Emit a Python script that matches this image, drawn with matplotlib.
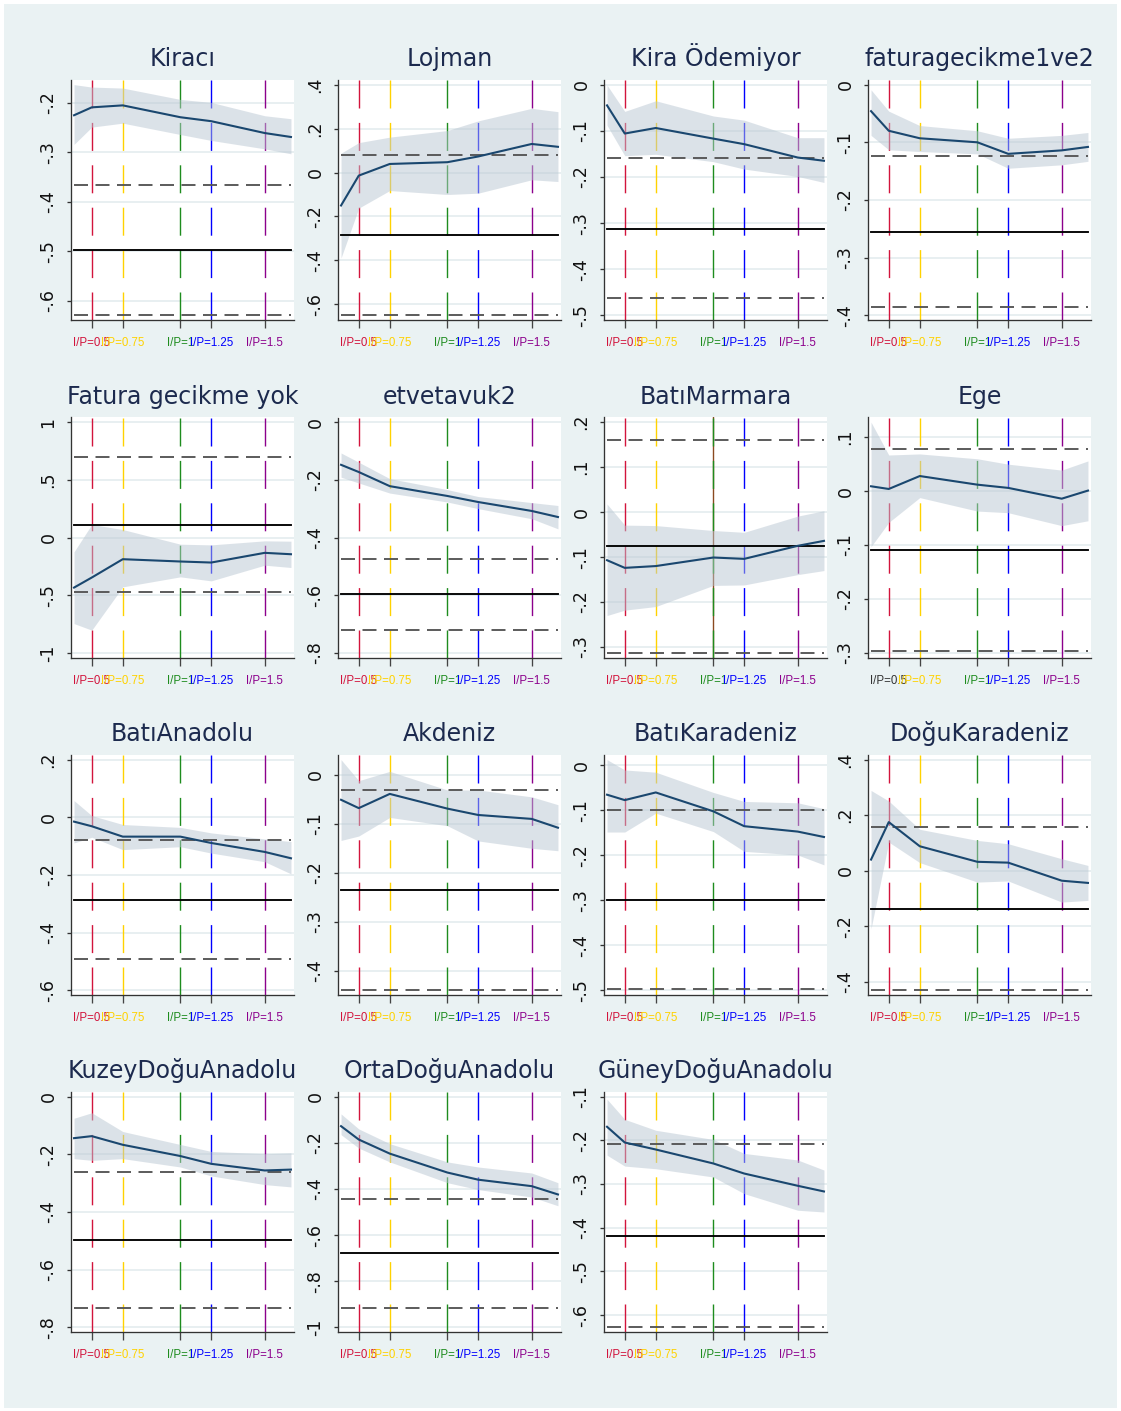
import matplotlib
matplotlib.use("Agg")
import matplotlib.pyplot as plt
from matplotlib import font_manager
from matplotlib.patches import Rectangle
import numpy as np

plt.rcParams["lines.scale_dashes"] = False

# ---------------- data ----------------
titles = ["Kiracı", "Lojman", "Kira Ödemiyor", "faturagecikme1ve2",
          "Fatura gecikme yok", "etvetavuk2", "BatıMarmara", "Ege",
          "BatıAnadolu", "Akdeniz", "BatıKaradeniz", "DoğuKaradeniz",
          "KuzeyDoğuAnadolu", "OrtaDoğuAnadolu", "GüneyDoğuAnadolu"]

x_vals = [0.40, 0.50, 0.675, 1.00, 1.174, 1.476, 1.624]
ip_pos = [0.50, 0.675, 1.00, 1.174, 1.476]
ip_labels = ["I/P=0.5", "I/P=0.75", "I/P=1", "I/P=1.25", "I/P=1.5"]

kiraci_est = [-0.225, -0.209, -0.205, -0.229, -0.237, -0.261, -0.269]
kiraci_hi = [-0.163, -0.168, -0.170, -0.193, -0.199, -0.226, -0.232]
kiraci_lo = [-0.284, -0.249, -0.241, -0.264, -0.276, -0.293, -0.303]

lojman_est = [-0.150, -0.014, 0.039, 0.047, 0.073, 0.130, 0.117]
lojman_hi = [0.088, 0.136, 0.161, 0.191, 0.235, 0.292, 0.277]
lojman_lo = [-0.389, -0.162, -0.082, -0.100, -0.094, -0.033, -0.041]

kiraode_est = [-0.045, -0.106, -0.094, -0.117, -0.129, -0.158, -0.165]
kiraode_hi = [-0.001, -0.058, -0.035, -0.068, -0.077, -0.115, -0.115]
kiraode_lo = [-0.088, -0.154, -0.151, -0.167, -0.183, -0.199, -0.212]

fatura12_est = [-0.046, -0.080, -0.093, -0.100, -0.120, -0.114, -0.108]
fatura12_hi = [-0.009, -0.046, -0.071, -0.080, -0.093, -0.088, -0.083]
fatura12_lo = [-0.088, -0.113, -0.116, -0.120, -0.145, -0.139, -0.133]

faturayok_est = [-0.434, -0.347, -0.188, -0.208, -0.217, -0.133, -0.145]
faturayok_hi = [-0.124, 0.113, 0.069, -0.058, -0.064, -0.029, -0.032]
faturayok_lo = [-0.746, -0.803, -0.428, -0.341, -0.376, -0.240, -0.260]

etve_est = [-0.148, -0.173, -0.222, -0.256, -0.277, -0.308, -0.329]
etve_hi = [-0.107, -0.139, -0.196, -0.234, -0.258, -0.279, -0.289]
etve_lo = [-0.191, -0.211, -0.246, -0.277, -0.300, -0.335, -0.370]

batimar_est = [-0.107, -0.124, -0.120, -0.101, -0.104, -0.075, -0.064]
batimar_hi = [0.018, -0.029, -0.030, -0.041, -0.045, -0.009, 0.003]
batimar_lo = [-0.230, -0.218, -0.210, -0.163, -0.162, -0.139, -0.130]

ege_est = [0.009, 0.004, 0.028, 0.012, 0.006, -0.014, 0.001]
ege_hi = [0.128, 0.067, 0.069, 0.060, 0.050, 0.039, 0.056]
ege_lo = [-0.103, -0.058, -0.012, -0.037, -0.040, -0.064, -0.055]

batiana_est = [-0.015, -0.031, -0.067, -0.067, -0.089, -0.120, -0.142]
batiana_hi = [0.058, 0.006, -0.025, -0.035, -0.054, -0.075, -0.084]
batiana_lo = [-0.089, -0.069, -0.112, -0.102, -0.124, -0.154, -0.196]

akdeniz_est = [-0.051, -0.068, -0.039, -0.069, -0.082, -0.090, -0.108]
akdeniz_hi = [0.031, -0.012, 0.007, -0.031, -0.031, -0.045, -0.061]
akdeniz_lo = [-0.134, -0.125, -0.087, -0.104, -0.135, -0.150, -0.155]

batikar_est = [-0.065, -0.077, -0.060, -0.102, -0.135, -0.147, -0.159]
batikar_hi = [0.013, -0.010, -0.015, -0.060, -0.080, -0.083, -0.096]
batikar_lo = [-0.148, -0.148, -0.106, -0.147, -0.191, -0.199, -0.221]

dogukar_est = [0.040, 0.175, 0.088, 0.032, 0.029, -0.036, -0.044]
dogukar_hi = [0.289, 0.251, 0.149, 0.109, 0.097, 0.043, 0.019]
dogukar_lo = [-0.209, 0.103, 0.029, -0.041, -0.037, -0.113, -0.107]

kdana_est = [-0.144, -0.137, -0.167, -0.206, -0.233, -0.256, -0.253]
kdana_hi = [-0.075, -0.056, -0.121, -0.166, -0.190, -0.198, -0.195]
kdana_lo = [-0.215, -0.221, -0.215, -0.244, -0.275, -0.305, -0.313]

odana_est = [-0.128, -0.186, -0.247, -0.329, -0.360, -0.388, -0.424]
odana_hi = [-0.075, -0.140, -0.204, -0.283, -0.305, -0.331, -0.373]
odana_lo = [-0.165, -0.223, -0.283, -0.373, -0.403, -0.435, -0.473]

gdana_est = [-0.169, -0.205, -0.221, -0.253, -0.276, -0.304, -0.317]
gdana_hi = [-0.106, -0.152, -0.177, -0.198, -0.230, -0.245, -0.268]
gdana_lo = [-0.234, -0.259, -0.265, -0.284, -0.322, -0.360, -0.364]

ref_solid = [-0.498, -0.286, -0.312, -0.255, 0.110, -0.597, -0.076, -0.110,
             -0.285, -0.236, -0.300, -0.137, -0.496, -0.678, -0.419]
ref_dash_hi = [-0.366, 0.079, -0.160, -0.124, 0.694, -0.473, 0.160, 0.078,
               -0.079, -0.031, -0.100, 0.156, -0.261, -0.443, -0.209]
ref_dash_lo = [-0.630, -0.650, -0.463, -0.385, -0.474, -0.721, -0.313, -0.297,
               -0.490, -0.440, -0.497, -0.431, -0.733, -0.914, -0.628]

ytick_lo = [-0.6, -0.6, -0.5, -0.4, -1.0, -0.8, -0.3, -0.3, -0.6, -0.4, -0.5, -0.4, -0.8, -1.0, -0.6]
ytick_hi = [-0.2, 0.4, 0.0, 0.0, 1.0, 0.0, 0.2, 0.1, 0.2, 0.0, 0.0, 0.4, 0.0, 0.0, -0.1]
ytick_step = [0.1, 0.2, 0.1, 0.1, 0.5, 0.2, 0.1, 0.1, 0.2, 0.1, 0.1, 0.2, 0.2, 0.2, 0.1]

est_list = [kiraci_est, lojman_est, kiraode_est, fatura12_est, faturayok_est, etve_est,
            batimar_est, ege_est, batiana_est, akdeniz_est, batikar_est, dogukar_est,
            kdana_est, odana_est, gdana_est]
hi_list = [kiraci_hi, lojman_hi, kiraode_hi, fatura12_hi, faturayok_hi, etve_hi,
           batimar_hi, ege_hi, batiana_hi, akdeniz_hi, batikar_hi, dogukar_hi,
           kdana_hi, odana_hi, gdana_hi]
lo_list = [kiraci_lo, lojman_lo, kiraode_lo, fatura12_lo, faturayok_lo, etve_lo,
           batimar_lo, ege_lo, batiana_lo, akdeniz_lo, batikar_lo, dogukar_lo,
           kdana_lo, odana_lo, gdana_lo]

# ---------------- styles ----------------
W, H, DPI = 1121, 1411, 100
BG = "#eaf2f3"
NAVY = "#1a476f"
TITLE_C = "#1c2a4e"
ip_colors = ["#d2143c", "#ffd200", "#1e8c1e", "#0000ff", "#8c008c"]

names = {f.name for f in font_manager.fontManager.ttflist}
narrow = None
for cand in ["Liberation Sans Narrow", "DejaVu Sans Condensed", "Arial Narrow"]:
    if cand in names:
        narrow = cand
        break
xlab_family = narrow if narrow else "Liberation Sans"
xlab_size = 9.4 if narrow else 8.3

PX = 72.0 / DPI  # points per pixel


def stata_fmt(v):
    v = round(v, 6)
    if abs(v) < 1e-9:
        return "0"
    s = ("%g" % v)
    if s.startswith("0."):
        s = s[1:]
    elif s.startswith("-0."):
        s = "-" + s[2:]
    return s


fig = plt.figure(figsize=(W / DPI, H / DPI), dpi=DPI, facecolor="white")
fig.patches.append(Rectangle((4 / W, 3 / H), (W - 8) / W, (H - 7) / H,
                             transform=fig.transFigure, facecolor=BG,
                             edgecolor="none", zorder=-10))

col_left = [71, 338, 604, 868]
row_top = [80, 417.5, 755, 1092]
AW, AH = 223, 240

for i in range(15):
    r, c = divmod(i, 4)
    ax = fig.add_axes([col_left[c] / W, 1 - (row_top[r] + AH) / H, AW / W, AH / H])
    ax.set_facecolor("white")
    est, hi, lo = est_list[i], hi_list[i], lo_list[i]

    ticks = np.arange(ytick_lo[i], ytick_hi[i] + ytick_step[i] / 2, ytick_step[i])
    dmin = min(min(lo), ref_dash_lo[i], ref_solid[i], ticks[0])
    dmax = max(max(hi), ref_dash_hi[i], ref_solid[i], ticks[-1])
    m = 0.02 * (dmax - dmin)
    ax.set_ylim(dmin - m, dmax + m)
    xm = 0.014 * (x_vals[-1] - x_vals[0])
    ax.set_xlim(x_vals[0] - xm, x_vals[-1] + xm)

    ax.set_yticks(ticks)
    ax.set_yticklabels([stata_fmt(t) for t in ticks], rotation=90, va="center",
                       fontsize=12.5, family="DejaVu Sans", color="#111111")
    ax.grid(axis="y", color="#e6eef0", lw=1.3, zorder=0)
    ax.set_axisbelow(True)

    # vertical reference lines at I/P cutoffs
    dash_v = (0, (28 * PX, 14.4 * PX))
    if i == 6:
        ax.axvline(ip_pos[2], color="#8a4a20", lw=1.0, zorder=1)
    for p, col in zip(ip_pos, ip_colors):
        ax.axvline(p, color=col, lw=1.0, linestyle=dash_v, zorder=1.2)

    # confidence band
    ax.fill_between(x_vals, lo, hi, color="#b9c6d2", alpha=0.5, lw=0, zorder=2)

    # horizontal reference lines
    dash_h = (0, (14 * PX, 7.5 * PX))
    ax.plot(x_vals, [ref_dash_hi[i]] * len(x_vals), color="#555555", lw=1.35,
            linestyle=dash_h, zorder=3)
    ax.plot(x_vals, [ref_dash_lo[i]] * len(x_vals), color="#555555", lw=1.35,
            linestyle=dash_h, zorder=3)
    ax.plot(x_vals, [ref_solid[i]] * len(x_vals), color="black", lw=1.35, zorder=3)

    # estimate line
    ax.plot(x_vals, est, color=NAVY, lw=1.5, zorder=4)

    # axes styling
    for s in ["top", "right"]:
        ax.spines[s].set_visible(False)
    for s in ["left", "bottom"]:
        ax.spines[s].set_color("#333333")
        ax.spines[s].set_linewidth(0.95)
    ax.tick_params(axis="y", length=3.2, width=0.95, color="#333333", pad=6.5)
    ax.tick_params(axis="x", length=5.8, width=0.95, color="#444444", pad=6.5)

    ax.set_xticks(ip_pos)
    ax.set_xticklabels(ip_labels, fontsize=xlab_size, family=xlab_family)
    for j, lab in enumerate(ax.get_xticklabels()):
        lab.set_color(ip_colors[j])
    if i == 7:
        ax.get_xticklabels()[0].set_color("#333333")

    ax.set_title(titles[i], fontsize=17, family="DejaVu Sans", color=TITLE_C, pad=10)

fig.savefig("out.png", dpi=DPI, facecolor=fig.get_facecolor())
